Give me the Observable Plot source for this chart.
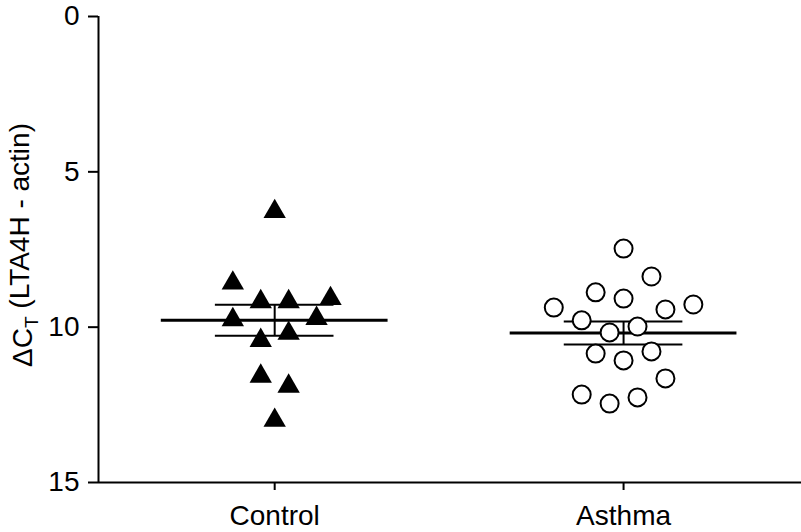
<!DOCTYPE html>
<html>
<head>
<meta charset="utf-8">
<script src="https://cdn.jsdelivr.net/npm/d3@7"></script>
<script src="https://cdn.jsdelivr.net/npm/@observablehq/plot@0.6"></script>
<style>
  html, body { margin: 0; padding: 0; background: #fff; }
  #chart svg { display: block; }
</style>
</head>
<body>
<div id="chart"></div>
<script>
// ---- data ----
const categories = ["Control", "Asthma"];
const categoryPositions = [1, 2];

const controlValues  = [6.28, 8.58, 9.18, 9.18, 9.08, 9.76, 9.72, 10.43, 10.2, 11.58, 11.9, 13.0];
const controlJitter  = [0, -0.12, -0.04, 0.04, 0.16, -0.12, 0.12, -0.04, 0.04, -0.04, 0.04, 0];

const asthmaValues   = [7.47, 8.37, 8.88, 9.08, 9.37, 9.43, 9.27, 9.78, 9.98, 10.17, 10.85, 11.07, 10.78, 11.65, 12.17, 12.46, 12.26];
const asthmaJitter   = [0, 0.08, -0.08, 0, -0.2, 0.12, 0.2, -0.12, 0.04, -0.04, -0.08, 0, 0.08, 0.12, -0.12, -0.04, 0.04];

const groupMeans = [9.78, 10.19];
const groupSems  = [0.5, 0.37];

const yTicks = [0, 5, 10, 15];

// ---- tables built from the arrays ----
const controlData = controlValues.map((v, i) => ({x: categoryPositions[0] + controlJitter[i], y: v}));
const asthmaData  = asthmaValues.map((v, i) => ({x: categoryPositions[1] + asthmaJitter[i], y: v}));
const summary = categories.map((c, i) => ({
  x: categoryPositions[i], mean: groupMeans[i],
  lo: groupMeans[i] - groupSems[i], hi: groupMeans[i] + groupSems[i]
}));

const xDomain = [0.495, 2.51];
const yDomain = [0, 15];
const meanHalf = 0.325, semHalf = 0.17;
const font = "'Liberation Sans', Arial, Helvetica, sans-serif";

const chart = Plot.plot({
  width: 801,
  height: 532,
  marginLeft: 98,
  marginRight: 0,
  marginTop: 16,
  marginBottom: 50,
  style: {fontFamily: font, fontSize: "28px", background: "#fff", color: "#000"},
  x: {type: "linear", domain: xDomain},
  y: {domain: yDomain, reverse: true},
  marks: [
    Plot.axisX({ticks: categoryPositions, tickFormat: d => categories[categoryPositions.indexOf(d)],
      tickSize: 8, tickPadding: 15, label: null, strokeWidth: 2, fontSize: 28}),
    Plot.axisY({ticks: yTicks, tickSize: 10, tickPadding: 9, label: null, strokeWidth: 2, fontSize: 28}),
    Plot.ruleY([yDomain[1]], {stroke: "#000", strokeWidth: 2}),
    Plot.ruleX([xDomain[0]], {stroke: "#000", strokeWidth: 2}),
    // mean lines
    Plot.ruleY(summary, {y: "mean", x1: d => d.x - meanHalf, x2: d => d.x + meanHalf, stroke: "#000", strokeWidth: 3}),
    // SEM lines
    Plot.ruleY(summary, {y: "hi", x1: d => d.x - semHalf, x2: d => d.x + semHalf, stroke: "#000", strokeWidth: 2}),
    Plot.ruleY(summary, {y: "lo", x1: d => d.x - semHalf, x2: d => d.x + semHalf, stroke: "#000", strokeWidth: 2}),
    Plot.ruleX(summary, {x: "x", y1: "lo", y2: "hi", stroke: "#000", strokeWidth: 2}),
    // points
    Plot.dot(controlData, {x: "x", y: "y", symbol: "triangle", r: 8.3, fill: "#000", stroke: "none"}),
    Plot.dot(asthmaData, {x: "x", y: "y", symbol: "circle", r: 9, fill: "#fff", stroke: "#000", strokeWidth: 2})
  ]
});

// y-axis title with subscript
const svg = d3.select(chart);
const t = svg.append("text")
  .attr("transform", "translate(32,245) rotate(-90)")
  .attr("text-anchor", "middle")
  .attr("fill", "#000")
  .style("font-family", font)
  .style("font-size", "28px");
t.append("tspan").text("ΔC");
t.append("tspan").attr("dy", "0.3em").style("font-size", "19px").text("T");
t.append("tspan").attr("dy", "-0.3em").text(" (LTA4H - actin)");

document.getElementById("chart").appendChild(chart);
</script>
</body>
</html>
